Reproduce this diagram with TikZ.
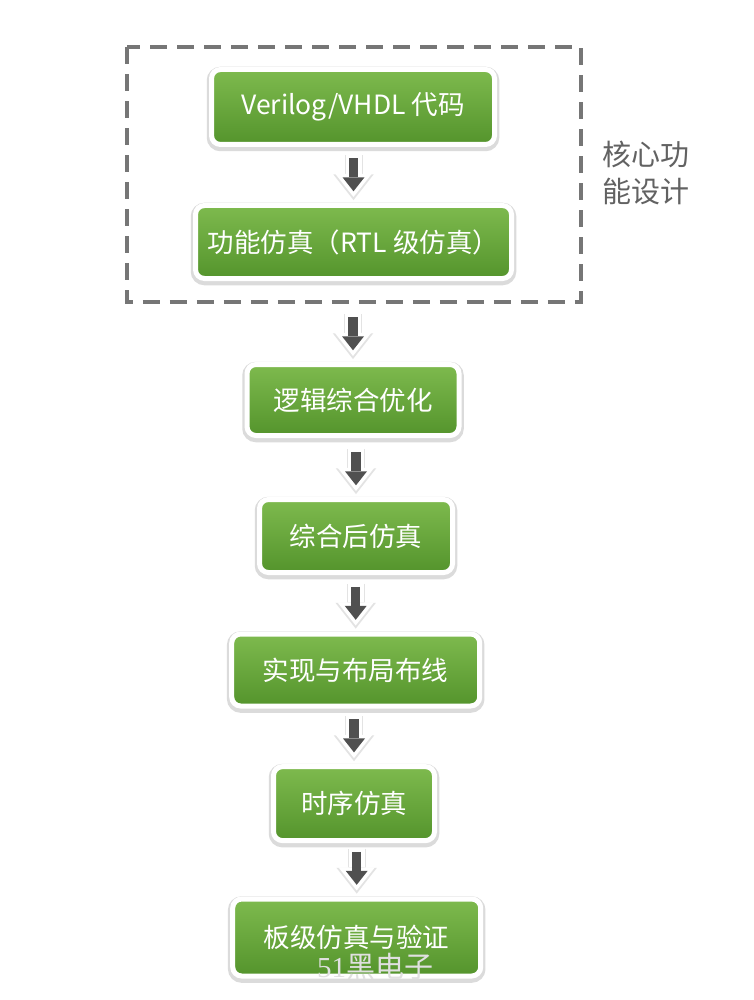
\documentclass[tikz,border=0pt]{standalone}
\usepackage{fontspec}
\setmainfont{Noto Sans CJK SC}
\newfontfamily\markfont{Liberation Serif}
\usepackage{tikz}
\usetikzlibrary{arrows.meta,positioning,calc}
\usepackage{xcolor}
\definecolor{greentop}{RGB}{126,186,78}
\definecolor{greenbot}{RGB}{84,148,44}
\definecolor{dashgray}{RGB}{118,118,118}
\definecolor{labelgray}{RGB}{98,98,98}
\definecolor{arrowgray}{RGB}{80,80,80}

\begin{document}
\begin{tikzpicture}[x=1pt, y=-1pt,
    stagebox/.style={rectangle, rounded corners=9pt, top color=greentop, bottom color=greenbot,
        draw=white, line width=5pt, text=white, inner sep=0pt,
        font=\fontsize{26.5}{30}\selectfont,
        preaction={draw=black!14, line width=9.5pt, transform canvas={yshift=-2pt}}},
    arrowshadow/.style={draw=black!11, line width=18pt, -{Triangle[length=25.8pt, width=40.5pt, line width=0pt]}},
    arrowhalo/.style={draw=white, line width=16pt, -{Triangle[length=23.2pt, width=36.5pt, line width=0pt]}},
    arrowcore/.style={draw=arrowgray, line width=9.5pt, -{Triangle[length=14pt, width=22pt, line width=0pt]}}]
    \useasboundingbox[fill=white] (0,0) rectangle (753,1000);

    % core design frame
    \draw[dashgray, line width=4pt, dash pattern=on 17pt off 10pt] (127.3,47.3) rectangle (581,301.7);
    \node[anchor=west, text=labelgray, align=left, font=\fontsize{29}{37}\selectfont] (core) at (599,173) {核心功\\能设计};

    % flow steps
    \node[stagebox, minimum width=283pt, minimum height=75pt] (v1) at (353,107) {Verilog/VHDL 代码};
    \node[stagebox, minimum width=316pt, minimum height=73pt] (v2) at (353.5,242) {功能仿真（RTL 级仿真）};
    \node[stagebox, minimum width=212pt, minimum height=71pt] (v3) at (353,400) {逻辑综合优化};
    \node[stagebox, minimum width=193pt, minimum height=73pt] (v4) at (356,536) {综合后仿真};
    \node[stagebox, minimum width=248pt, minimum height=72pt] (v5) at (355.7,670) {实现与布局布线};
    \node[stagebox, minimum width=161pt, minimum height=74pt] (v6) at (354,803.6) {时序仿真};
    \node[stagebox, minimum width=248pt, minimum height=77pt] (v7) at (356.7,937.5) {板级仿真与验证};

    % block arrows
    \foreach \b in {v2,v3,v4,v5,v6,v7} {
        \draw[arrowshadow] ([yshift=47.7pt]\b.north) -- ([yshift=2.9pt]\b.north);
        \draw[arrowhalo] ([yshift=48.2pt]\b.north) -- ([yshift=6pt]\b.north);
        \draw[arrowcore] ([yshift=44.7pt]\b.north) -- ([yshift=11.7pt]\b.north);
    }

    \node[text=white!88!black, font=\fontsize{29}{30}\selectfont] (mark) at (375,967) {{\markfont 51}黑电子};
\end{tikzpicture}
\end{document}
